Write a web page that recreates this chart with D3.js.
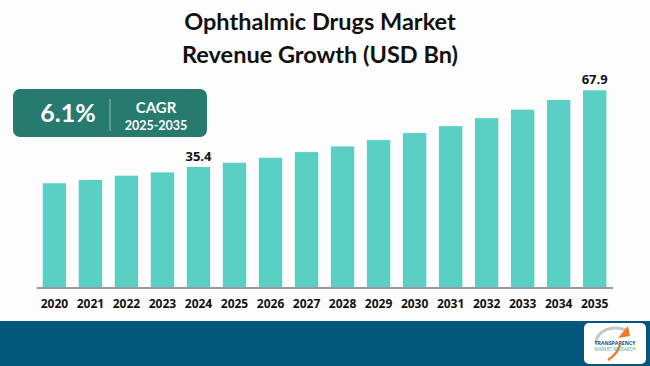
<!DOCTYPE html>
<html><head><meta charset="utf-8">
<script src="https://cdn.jsdelivr.net/npm/d3@7"></script>
<style>body{margin:0;background:#fff}svg{display:block}</style>
</head><body>
<script>
const years = ["2020","2021","2022","2023","2024","2025","2026","2027","2028","2029","2030","2031","2032","2033","2034","2035"];
const revenue = [28.5,29.9,31.7,33.1,35.4,37.2,39.3,41.7,44.1,46.8,49.8,52.7,56.1,59.7,63.8,67.9];
const labeledYears = ["2024","2035"];
const titleLines = ["Ophthalmic Drugs Market","Revenue Growth (USD Bn)"];
const cagrValue = "6.1%";
const cagrLabel = "CAGR";
const cagrPeriod = "2025-2035";

const W=650,H=366;
const svg=d3.select("body").append("svg").attr("width",W).attr("height",H);
svg.append("rect").attr("width",W).attr("height",H).attr("fill","#fdfdfd");

// title
svg.append("g").selectAll("text").data(titleLines).join("text")
  .attr("x",320).attr("y",(d,i)=>30+i*33).attr("text-anchor","middle")
  .attr("font-family","Lato, 'Open Sans', sans-serif").attr("font-weight",700)
  .attr("font-size",23.5).attr("fill","#111").text(d=>d);

const x=d3.scaleBand().domain(years).range([36.4,612.7]).paddingInner(0.35).paddingOuter(0.175);
const y=d3.scaleLinear().domain([-15.7,67.9]).range([287.5,90.3]);

svg.append("g").selectAll("rect").data(years).join("rect")
  .attr("x",d=>x(d)).attr("width",x.bandwidth())
  .attr("y",(d,i)=>y(revenue[i])).attr("height",(d,i)=>y(-15.7)-y(revenue[i]))
  .attr("fill","#59d0c3");

const ax=svg.append("g").attr("transform","translate(0,287.5)")
  .call(d3.axisBottom(x).tickSize(0).tickPadding(12));
ax.select(".domain").attr("stroke","#9a9a9a").attr("stroke-width",2);
ax.selectAll("text").attr("font-family","'Open Sans', sans-serif").attr("font-weight",700)
  .attr("font-size",12).attr("fill","#111");

svg.append("g").selectAll("text").data(labeledYears).join("text")
  .attr("x",d=>x(d)+x.bandwidth()/2)
  .attr("y",d=>y(revenue[years.indexOf(d)])-6)
  .attr("text-anchor","middle").attr("font-family","'Open Sans', sans-serif")
  .attr("font-weight",700).attr("font-size",13).attr("fill","#111")
  .text(d=>revenue[years.indexOf(d)].toFixed(1));

// CAGR box
const cg=svg.append("g");
cg.append("rect").attr("x",13).attr("y",89).attr("width",194).attr("height",48).attr("rx",7).attr("fill","#277a6e");
cg.append("line").attr("x1",110).attr("x2",110).attr("y1",99).attr("y2",131).attr("stroke","#8fbfb6").attr("stroke-width",1);
cg.append("text").attr("x",68).attr("y",122).attr("text-anchor","middle").attr("fill","#fff")
  .attr("font-family","Lato, sans-serif").attr("font-weight",700).attr("font-size",25).text(cagrValue);
cg.append("text").attr("x",156).attr("y",113).attr("text-anchor","middle").attr("fill","#fff")
  .attr("font-family","Lato, sans-serif").attr("font-weight",700).attr("font-size",15).text(cagrLabel);
cg.append("text").attr("x",156).attr("y",130).attr("text-anchor","middle").attr("fill","#fff")
  .attr("font-family","Lato, sans-serif").attr("font-weight",700).attr("font-size",12.5).text(cagrPeriod);

// bottom band
svg.append("rect").attr("x",0).attr("y",321).attr("width",W).attr("height",H-321).attr("fill","#03577b");
const lg=svg.append("g");
lg.append("rect").attr("x",584).attr("y",323).attr("width",62).attr("height",41).attr("rx",5).attr("fill","#fff");
lg.append("path").attr("d","M596,344 C596,330 612,325 626,330").attr("fill","none").attr("stroke","#c8c8c8").attr("stroke-width",3);
lg.append("path").attr("d","M620,345 C618,352 614,356 608,360").attr("fill","none").attr("stroke","#f07a2a").attr("stroke-width",2.5);
lg.append("path").attr("d","M618,338 L628,326 L630,336 Z").attr("fill","#f07a2a");
lg.append("text").attr("x",615).attr("y",345).attr("text-anchor","middle").attr("font-family","'Open Sans', sans-serif")
  .attr("font-weight",700).attr("font-size",5.2).attr("fill","#1d4e6e").text("TRANSPARENCY");
lg.append("text").attr("x",615).attr("y",351).attr("text-anchor","middle").attr("font-family","'Open Sans', sans-serif")
  .attr("font-size",4.6).attr("fill","#49a9a0").text("MARKET RESEARCH");
</script>
</body></html>
